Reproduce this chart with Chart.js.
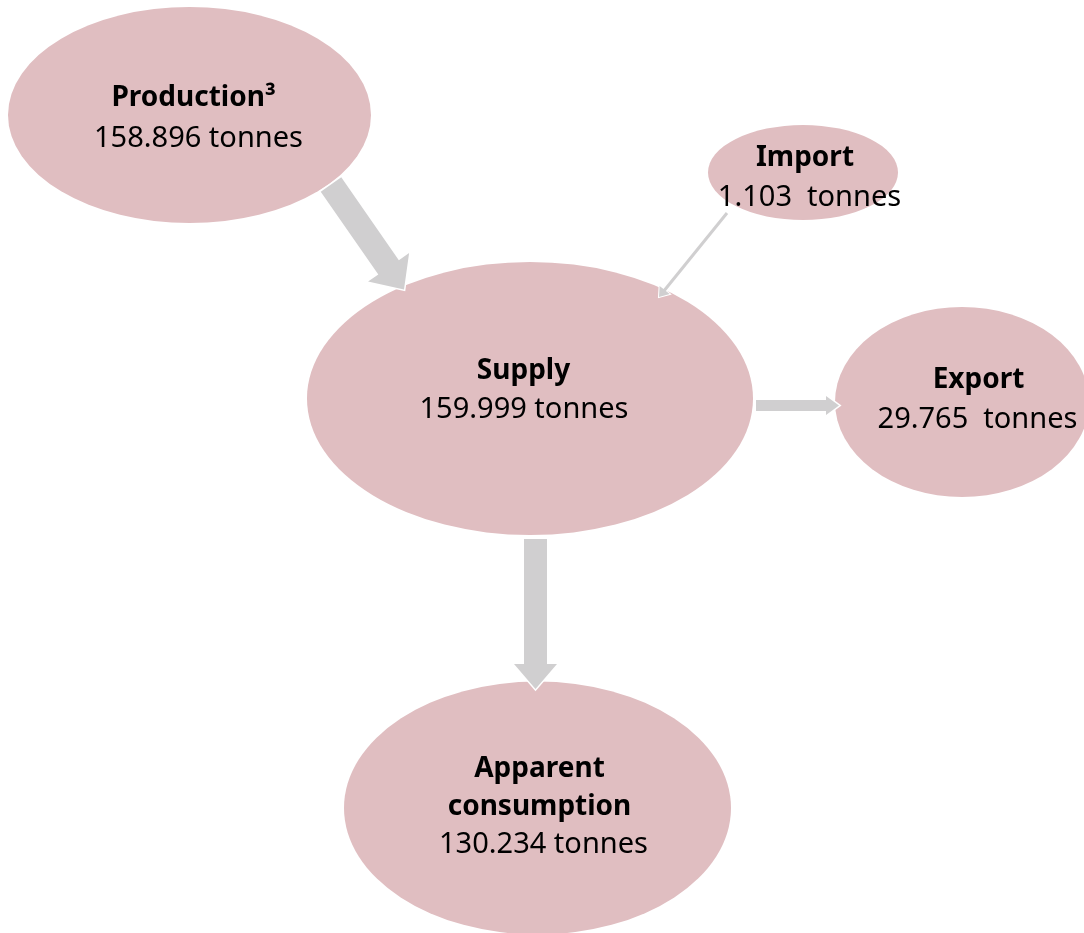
<!DOCTYPE html>
<html>
<head>
<meta charset="utf-8">
<script src="https://cdn.jsdelivr.net/npm/chart.js@4.4.1/dist/chart.umd.min.js"></script>
<style>
  html, body { margin: 0; padding: 0; background: #fff; }
  #flow { display: block; }
</style>
</head>
<body>
<canvas id="flow" width="1084" height="933"></canvas>
<script>
// material balance, in tonnes
const nodes = ['Production³', 'Import', 'Supply', 'Export', 'Apparent consumption'];
const tonnes = [158896, 1103, 159999, 29765, 130234];
const flowFrom = ['Production³', 'Import', 'Supply', 'Supply'];
const flowTo = ['Supply', 'Supply', 'Export', 'Apparent consumption'];

// diagram layout, in axis units (axes run 0..1084 and 0..933 top-down)
const nodeLayout = {
  'Production³':          { cx: 189.5, cy: 115,   rx: 181.5, ry: 108,   tx: 193.5, vx: 198.5, ty: 106, lh: 41 },
  'Import':               { cx: 803,   cy: 172.5, rx: 95,    ry: 47.5,  tx: 805,   vx: 809.5, ty: 166, lh: 40, gap: 2 },
  'Supply':               { cx: 530,   cy: 398.5, rx: 223,   ry: 136.5, tx: 523.5, vx: 524,   ty: 379, lh: 39 },
  'Export':               { cx: 962,   cy: 402,   rx: 127,   ry: 95,    tx: 978.5, vx: 977.5, ty: 388, lh: 40, gap: 2 },
  'Apparent consumption': { cx: 537.5, cy: 808,   rx: 193.5, ry: 126.5, tx: 539.5, vx: 543.5, ty: 777, lh: 38, wrap: true }
};
// arrow geometry: tail, tip, shaft width, head width, head length
const flowLayout = [
  { x1: 331,   y1: 184.5, x2: 404,   y2: 289.5, shaft: 25, head: 50, headLen: 27 },
  { x1: 727,   y1: 213,   x2: 659,   y2: 297,   shaft: 3,  head: 13, headLen: 9 },
  { x1: 756,   y1: 405.5, x2: 839,   y2: 405.5, shaft: 11, head: 19, headLen: 13 },
  { x1: 535.5, y1: 539,   x2: 535.5, y2: 689,   shaft: 23, head: 43, headLen: 25 }
];

const FONT = '"Noto Sans", "DejaVu Sans", sans-serif';
const NODE_FILL = '#e0bec1';
const ARROW_FILL = '#d0cfd0';

function fmt(v) {
  return String(v).replace(/\B(?=(\d{3})+(?!\d))/g, '.');
}

const flowPlugin = {
  id: 'flowDiagram',
  afterDatasetsDraw(chart) {
    const ctx = chart.ctx;
    const sx = chart.scales.x, sy = chart.scales.y;
    const px = v => sx.getPixelForValue(v);
    const py = v => sy.getPixelForValue(v);
    const pts = chart.data.datasets[0].data;

    ctx.save();
    // ellipses
    pts.forEach((p, i) => {
      const L = nodeLayout[nodes[i]];
      const cx = px(p.x), cy = py(p.y);
      const rx = Math.abs(px(p.x + L.rx) - cx);
      const ry = Math.abs(py(p.y + L.ry) - cy);
      ctx.beginPath();
      ctx.ellipse(cx, cy, rx, ry, 0, 0, Math.PI * 2);
      ctx.fillStyle = NODE_FILL;
      ctx.fill();
    });

    // arrows
    flowLayout.forEach((a, i) => {
      const x1 = px(a.x1), y1 = py(a.y1), x2 = px(a.x2), y2 = py(a.y2);
      const len = Math.hypot(x2 - x1, y2 - y1);
      const ux = (x2 - x1) / len, uy = (y2 - y1) / len;
      const nx = -uy, ny = ux;
      const bx = x2 - ux * a.headLen, by = y2 - uy * a.headLen;
      const s = a.shaft / 2, h = a.head / 2;
      ctx.beginPath();
      ctx.moveTo(x1 + nx * s, y1 + ny * s);
      ctx.lineTo(bx + nx * s, by + ny * s);
      ctx.lineTo(bx + nx * h, by + ny * h);
      ctx.lineTo(x2, y2);
      ctx.lineTo(bx - nx * h, by - ny * h);
      ctx.lineTo(bx - nx * s, by - ny * s);
      ctx.lineTo(x1 - nx * s, y1 - ny * s);
      ctx.closePath();
      ctx.lineJoin = 'miter';
      ctx.strokeStyle = '#ffffff';
      ctx.lineWidth = a.shaft < 5 ? 2 : 3;
      ctx.stroke();
      ctx.fillStyle = ARROW_FILL;
      ctx.fill();
    });

    // labels
    ctx.fillStyle = '#000';
    ctx.textAlign = 'center';
    ctx.textBaseline = 'alphabetic';
    nodes.forEach((name, i) => {
      const L = nodeLayout[name];
      const titles = L.wrap ? name.split(' ') : [name];
      let y = py(L.ty);
      ctx.font = 'bold 28px ' + FONT;
      titles.forEach(t => {
        ctx.fillText(t, px(L.tx), y);
        y += L.lh;
      });
      ctx.font = '29px ' + FONT;
      ctx.fillText(fmt(tonnes[i]) + ' '.repeat(L.gap || 1) + 'tonnes', px(L.vx), y);
    });
    ctx.restore();
  }
};

new Chart(document.getElementById('flow'), {
  type: 'scatter',
  data: {
    labels: nodes,
    datasets: [{
      label: 'Tonnes',
      data: nodes.map((n, i) => ({ x: nodeLayout[n].cx, y: nodeLayout[n].cy, v: tonnes[i] })),
      pointRadius: 0,
      pointHoverRadius: 0
    }]
  },
  options: {
    responsive: false,
    animation: false,
    layout: { padding: 0 },
    scales: {
      x: { type: 'linear', min: 0, max: 1084, display: false },
      y: { type: 'linear', min: 0, max: 933, reverse: true, display: false }
    },
    plugins: {
      legend: { display: false },
      tooltip: { enabled: false }
    }
  },
  plugins: [flowPlugin]
});
</script>
</body>
</html>
